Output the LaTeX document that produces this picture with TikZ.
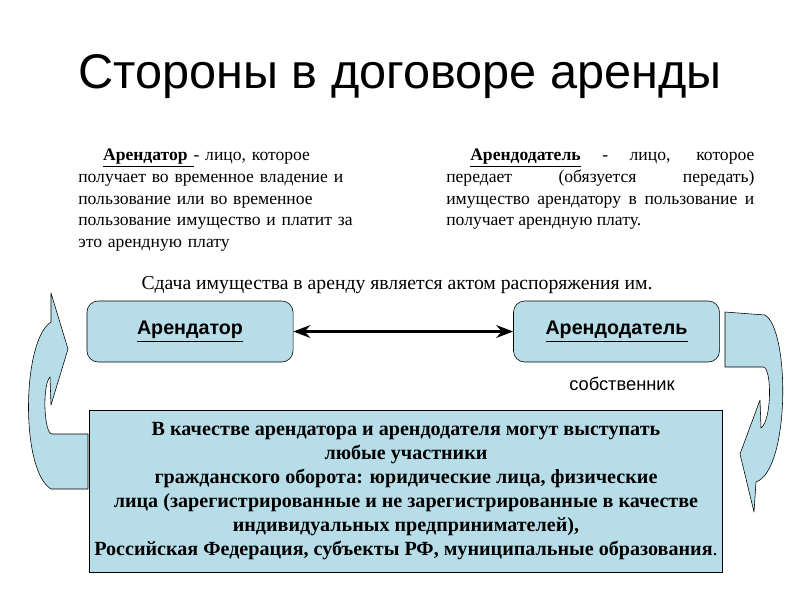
\documentclass[tikz,border=0pt]{standalone}
\usepackage{fontspec}
\setmainfont{Liberation Serif}
\newfontfamily\arialfont{Liberation Sans}
\usepackage{tikz}
\usetikzlibrary{arrows.meta}
\definecolor{boxblue}{RGB}{183,222,232}
\tikzset{>={Stealth[scale=1]},
  rolebox/.style={draw, fill=boxblue, rounded corners=8pt, minimum width=5.15cm,
    minimum height=1.525cm, font=\arialfont\fontsize{14}{16}\selectfont\bfseries},
  infobox/.style={draw, fill=boxblue, minimum width=15.7cm, minimum height=4.05cm,
    align=center, font=\fontsize{14.3}{17}\selectfont\bfseries},
  para/.style={anchor=north west, inner sep=0pt, font=\fontsize{12.5}{15.4}\selectfont},
  bend arrow/.style={draw, fill=boxblue, line join=round}
}
\begin{document}
\begin{tikzpicture}[x=0.025cm, y=-0.025cm]
  \useasboundingbox (0,0) rectangle (800,600);

  % title
  \node (title) at (400,77) {\arialfont\fontsize{34.6}{40}\selectfont Стороны в договоре аренды};

  % definitions
  \node[para, text width=7.2cm, align=left] (lessee) at (78,149)
    {\hspace*{0.62cm}\underline{\textbf{Арендатор }}- лицо, которое\\
     получает во временное владение и\\
     пользование или во временное\\
     пользование имущество и платит за\\
     это арендную плату};
  \node[para, text width=7.7cm, align=justify] (lessor) at (446,149)
    {\hspace*{0.6cm}\underline{\textbf{Арендодатель}} - лицо, которое\linebreak
     передает (обязуется передать)\linebreak
     имущество арендатору в пользование и\linebreak
     получает арендную плату.};

  \node (act) at (397,285) {\fontsize{14}{16}\selectfont Сдача имущества в аренду является актом распоряжения им.};

  % parties
  \node[rolebox] (tenant) at (190,331.5) {\underline{Арендатор}};
  \node[rolebox] (owner) at (616.5,331.5) {\underline{Арендодатель}};
  \draw[<->, line width=2pt] (tenant) -- (owner);

  \node (ownerlbl) at (622,384) {\arialfont\fontsize{13}{15}\selectfont собственник};

  \node[infobox] (who) at (406,491)
    {В качестве арендатора  и арендодателя могут выступать\\
     любые участники\\
     гражданского оборота: юридические лица, физические\\
     лица (зарегистрированные и не зарегистрированные в качестве\\
     индивидуальных предпринимателей),\\
     Российская Федерация, субъекты РФ, муниципальные образования\mdseries.};

  % curved arrows
  \path[bend arrow] (51,293) -- (68,349) -- (51,405) -- (50,377)
    .. controls (42,385) and (44,434) .. (52,434) -- (88,434) -- (88,489) -- (51,489)
    .. controls (20,470) and (22,340) .. (51,322) -- cycle;
  \path[bend arrow] (725,312) -- (765,315)
    .. controls (790,330) and (790,470) .. (756,482) -- (754,512) -- (740,454)
    -- (760,400) -- (761,428)
    .. controls (772,420) and (772,367) .. (763,367) -- (725,367) -- cycle;
\end{tikzpicture}
\end{document}
